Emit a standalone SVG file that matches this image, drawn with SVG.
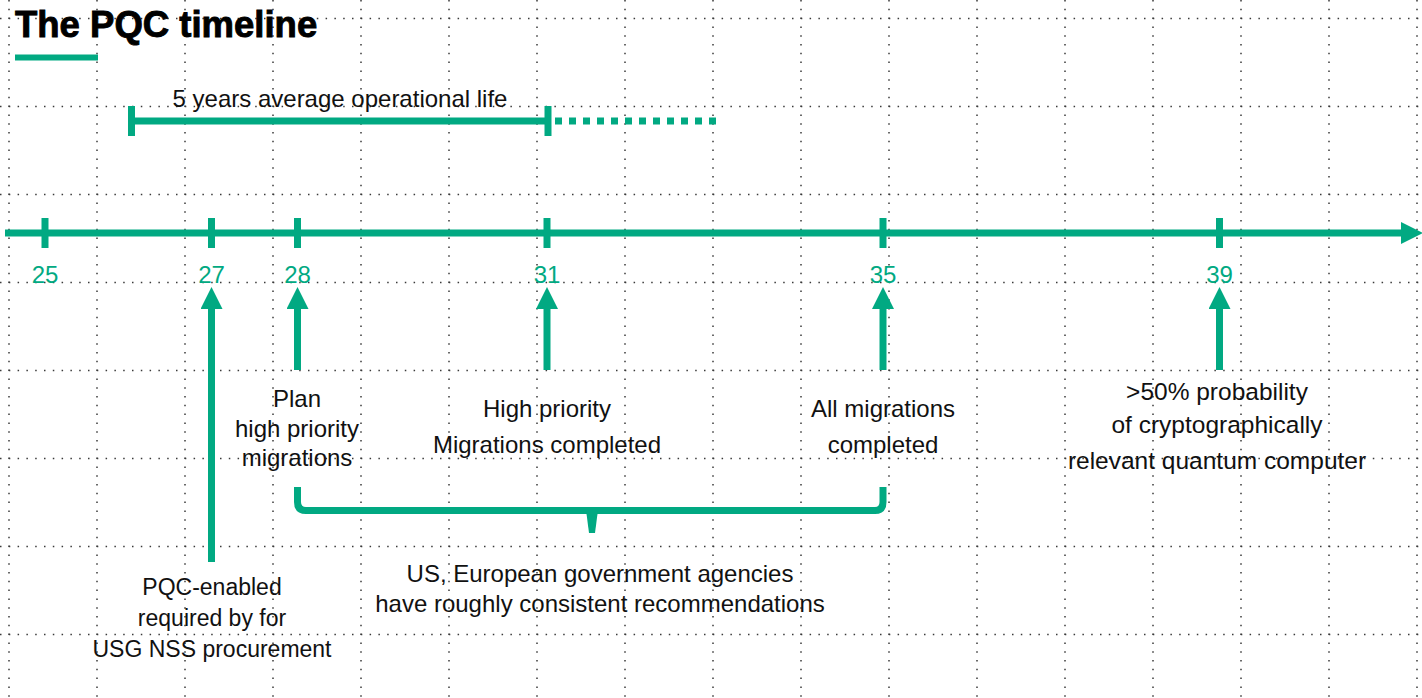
<svg xmlns="http://www.w3.org/2000/svg" width="1422" height="698" viewBox="0 0 1422 698">
<style>
.grid line{stroke:#3a3a3a;stroke-width:1.5;stroke-dasharray:1.5 7.3}
.g{fill:#01A982}
.gs{stroke:#01A982;fill:none;stroke-width:7}
.num{font-family:"Liberation Sans",Arial,sans-serif;font-size:24px;fill:#01A982;text-anchor:middle}
.lbl{font-family:"Liberation Sans",Arial,sans-serif;font-size:24px;fill:#111;text-anchor:middle}
.title{font-family:"Liberation Sans",Arial,sans-serif;font-size:36.5px;font-weight:bold;fill:#000;stroke:#000;stroke-width:0.9}
</style>
<defs>
<marker id="ah" viewBox="0 0 22 22" refX="0" refY="11" markerWidth="22" markerHeight="22" markerUnits="userSpaceOnUse" orient="auto">
<path d="M0,0 L22,11 L0,22 Z" fill="#01A982"/>
</marker>
</defs>
<rect width="1422" height="698" fill="#fff"/>
<g class="grid">
<line x1="9" y1="0" x2="9" y2="698"/><line x1="97" y1="0" x2="97" y2="698"/><line x1="185" y1="0" x2="185" y2="698"/><line x1="273" y1="0" x2="273" y2="698"/><line x1="361" y1="0" x2="361" y2="698"/><line x1="449" y1="0" x2="449" y2="698"/><line x1="537" y1="0" x2="537" y2="698"/><line x1="625" y1="0" x2="625" y2="698"/><line x1="713" y1="0" x2="713" y2="698"/><line x1="801" y1="0" x2="801" y2="698"/><line x1="889" y1="0" x2="889" y2="698"/><line x1="977" y1="0" x2="977" y2="698"/><line x1="1065" y1="0" x2="1065" y2="698"/><line x1="1153" y1="0" x2="1153" y2="698"/><line x1="1241" y1="0" x2="1241" y2="698"/><line x1="1329" y1="0" x2="1329" y2="698"/><line x1="1417" y1="0" x2="1417" y2="698"/>
<line x1="0" y1="18.5" x2="1422" y2="18.5"/><line x1="0" y1="106.5" x2="1422" y2="106.5"/><line x1="0" y1="194.5" x2="1422" y2="194.5"/><line x1="0" y1="282.5" x2="1422" y2="282.5"/><line x1="0" y1="370.5" x2="1422" y2="370.5"/><line x1="0" y1="458.5" x2="1422" y2="458.5"/><line x1="0" y1="546.5" x2="1422" y2="546.5"/><line x1="0" y1="634.5" x2="1422" y2="634.5"/>
</g>
<g id="title">
<text class="title" x="15" y="37">The PQC timeline</text>
<rect class="g" x="15" y="54.5" width="83" height="6"/>
</g>
<g id="operational-life">
<line class="gs" x1="131.5" y1="121" x2="548" y2="121"/>
<line class="gs" x1="131.5" y1="106" x2="131.5" y2="136"/>
<line class="gs" x1="548" y1="106" x2="548" y2="136"/>
<line class="gs" x1="555" y1="121" x2="718" y2="121" stroke-dasharray="7 7"/>
<text class="lbl" x="340" y="107">5 years average operational life</text>
</g>
<g id="timeline">
<line class="gs" x1="5" y1="233" x2="1401" y2="233" marker-end="url(#ah)"/>
</g>
<g id="year-25"><line class="gs" x1="45" y1="218" x2="45" y2="248"/><text class="num" x="45" y="283">25</text></g>
<g id="year-27"><line class="gs" x1="211.5" y1="218" x2="211.5" y2="248"/><text class="num" x="211.5" y="283">27</text></g>
<g id="year-28"><line class="gs" x1="297.5" y1="218" x2="297.5" y2="248"/><text class="num" x="297.5" y="283">28</text></g>
<g id="year-31"><line class="gs" x1="547" y1="218" x2="547" y2="248"/><text class="num" x="547" y="283">31</text></g>
<g id="year-35"><line class="gs" x1="883" y1="218" x2="883" y2="248"/><text class="num" x="883" y="283">35</text></g>
<g id="year-39"><line class="gs" x1="1219.5" y1="218" x2="1219.5" y2="248"/><text class="num" x="1219.5" y="283">39</text></g>
<g id="connectors">
<line class="gs" x1="211.5" y1="562" x2="211.5" y2="309" marker-end="url(#ah)"/>
<line class="gs" x1="297.5" y1="370" x2="297.5" y2="309" marker-end="url(#ah)"/>
<line class="gs" x1="547" y1="370" x2="547" y2="309" marker-end="url(#ah)"/>
<line class="gs" x1="883" y1="370" x2="883" y2="309" marker-end="url(#ah)"/>
<line class="gs" x1="1219.5" y1="370" x2="1219.5" y2="309" marker-end="url(#ah)"/>
</g>
<g id="label-pqc-enabled">
<text class="lbl" x="212" y="595" style="font-size:23px">PQC-enabled</text>
<text class="lbl" x="212" y="626" style="font-size:23px">required by for</text>
<text class="lbl" x="212" y="657" style="font-size:23px">USG NSS procurement</text>
</g>
<g id="label-plan">
<text class="lbl" x="297" y="407">Plan</text>
<text class="lbl" x="297" y="437">high priority</text>
<text class="lbl" x="297" y="466">migrations</text>
</g>
<g id="label-high-priority">
<text class="lbl" x="547" y="417">High priority</text>
<text class="lbl" x="547" y="453">Migrations completed</text>
</g>
<g id="label-all-migrations">
<text class="lbl" x="883" y="417">All migrations</text>
<text class="lbl" x="883" y="453">completed</text>
</g>
<g id="label-quantum">
<text class="lbl" x="1217" y="400" style="font-size:24.5px">&gt;50% probability</text>
<text class="lbl" x="1217" y="433" style="font-size:24.5px">of cryptographically</text>
<text class="lbl" x="1217" y="469" style="font-size:24.5px">relevant quantum computer</text>
</g>
<g id="bracket">
<path class="gs" stroke-linejoin="round" d="M297.5,487 V502 Q297.5,510.5 306,510.5 H875 Q883,510.5 883,502 V487"/>
<path class="g" d="M586,510 L598,510 L595,533 L589,533 Z"/>
</g>
<g id="label-agencies">
<text class="lbl" x="600" y="582">US, European government agencies</text>
<text class="lbl" x="600" y="612">have roughly consistent recommendations</text>
</g>
</svg>
